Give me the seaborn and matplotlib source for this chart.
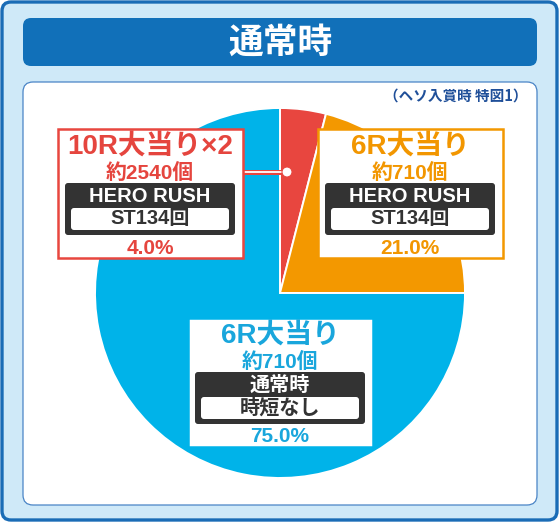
import matplotlib
matplotlib.use("Agg")
import matplotlib.pyplot as plt
import seaborn as sns
from matplotlib.patches import FancyBboxPatch, Circle

# chart data
segments = ["10R大当り×2", "6R大当り", "6R大当り"]
payouts = ["約2540個", "約710個", "約710個"]
modes = ["HERO RUSH", "HERO RUSH", "通常時"]
st_text = ["ST134回", "ST134回", "時短なし"]
shares = [4.0, 21.0, 75.0]
title = "通常時"
subtitle = "（ヘソ入賞時 特図1）"

slice_colors = ["#e8463f", "#f39800", "#00b3e9"]
text_colors = ["#e5453e", "#f29600", "#19a6dc"]

W, H = 560, 523
JP = ["Noto Sans CJK JP", "DejaVu Sans"]
LAT = ["Liberation Sans", "Noto Sans CJK JP", "DejaVu Sans"]

sns.set_theme(style="white")
plt.rcParams["font.family"] = JP
palette = sns.color_palette(slice_colors)

fig = plt.figure(figsize=(W / 100, H / 100), dpi=100)
ax = fig.add_axes([0, 0, 1, 1])

# outer frame + title bar + white panel
ax.add_patch(FancyBboxPatch((2, 2), W - 5, H - 5, boxstyle="round,pad=0,rounding_size=9",
                            fc="#cfe9f8", ec="#1a6cb6", lw=2.4, zorder=0))
ax.add_patch(FancyBboxPatch((23, 18), 514, 48, boxstyle="round,pad=0,rounding_size=8",
                            fc="#1170b9", ec="none", zorder=1))
ax.add_patch(FancyBboxPatch((23, 82), 514, 423, boxstyle="round,pad=0,rounding_size=10",
                            fc="white", ec="#4a84c6", lw=0.9, zorder=1))
ax.text(281, 42, title, color="white", fontsize=25, fontweight="bold",
        ha="center", va="center", family=JP, zorder=2)
ax.text(528, 96, subtitle, color="#1f4f99", fontsize=10.5, fontweight="bold",
        ha="right", va="center", family=JP, zorder=2)

# pie (y axis is inverted, so counterclock in data = clockwise on screen)
ax.pie(shares, colors=palette, startangle=-90, counterclock=True,
       center=(280, 293), radius=185, frame=False,
       wedgeprops=dict(edgecolor="white", linewidth=1.4, zorder=2))

# label boxes
box_x = [150, 410, 280]
box_top = [129, 129, 318]
bw, bh = 185, 129

for i in range(3):
    cx, top = box_x[i], box_top[i]
    c = text_colors[i]
    ax.add_patch(FancyBboxPatch((cx - bw / 2, top), bw, bh, boxstyle="square,pad=0",
                                fc="white", ec=slice_colors[i], lw=1.8, zorder=4))
    ax.add_patch(FancyBboxPatch((cx - 85, top + 54), 170, 52,
                                boxstyle="round,pad=0,rounding_size=3",
                                fc="#333333", ec="none", zorder=5))
    ax.add_patch(FancyBboxPatch((cx - 79, top + 79), 158, 22,
                                boxstyle="round,pad=0,rounding_size=3",
                                fc="white", ec="none", zorder=6))
    ax.text(cx, top + 19, segments[i], color=c, fontsize=20, fontweight="bold",
            ha="center", va="center", family=LAT, zorder=7)
    ax.text(cx, top + 44, payouts[i], color=c, fontsize=15, fontweight="bold",
            ha="center", va="center", family=LAT, zorder=7)
    ax.text(cx, top + 67, modes[i], color="white", fontsize=14.5, fontweight="bold",
            ha="center", va="center", family=LAT, zorder=7)
    ax.text(cx, top + 90, st_text[i], color="#333333", fontsize=14.5, fontweight="bold",
            ha="center", va="center", family=LAT, zorder=7)
    ax.text(cx, top + 119, f"{shares[i]:.1f}%", color=c, fontsize=15, fontweight="bold",
            ha="center", va="center", family=LAT, zorder=7)

# connector from the small red slice to its box
ax.plot([box_x[0] + bw / 2, 287], [172, 172], color=slice_colors[0], lw=3.6,
        solid_capstyle="butt", zorder=3)
ax.plot([box_x[0] + bw / 2, 287], [172, 172], color="white", lw=1.3,
        solid_capstyle="butt", zorder=3)
ax.add_patch(Circle((287, 172), 5, fc="white", ec=slice_colors[0], lw=0.8, zorder=3))

ax.set_xlim(0, W)
ax.set_ylim(H, 0)
ax.set_aspect("auto")
ax.axis("off")

fig.savefig("out.png", dpi=100)
